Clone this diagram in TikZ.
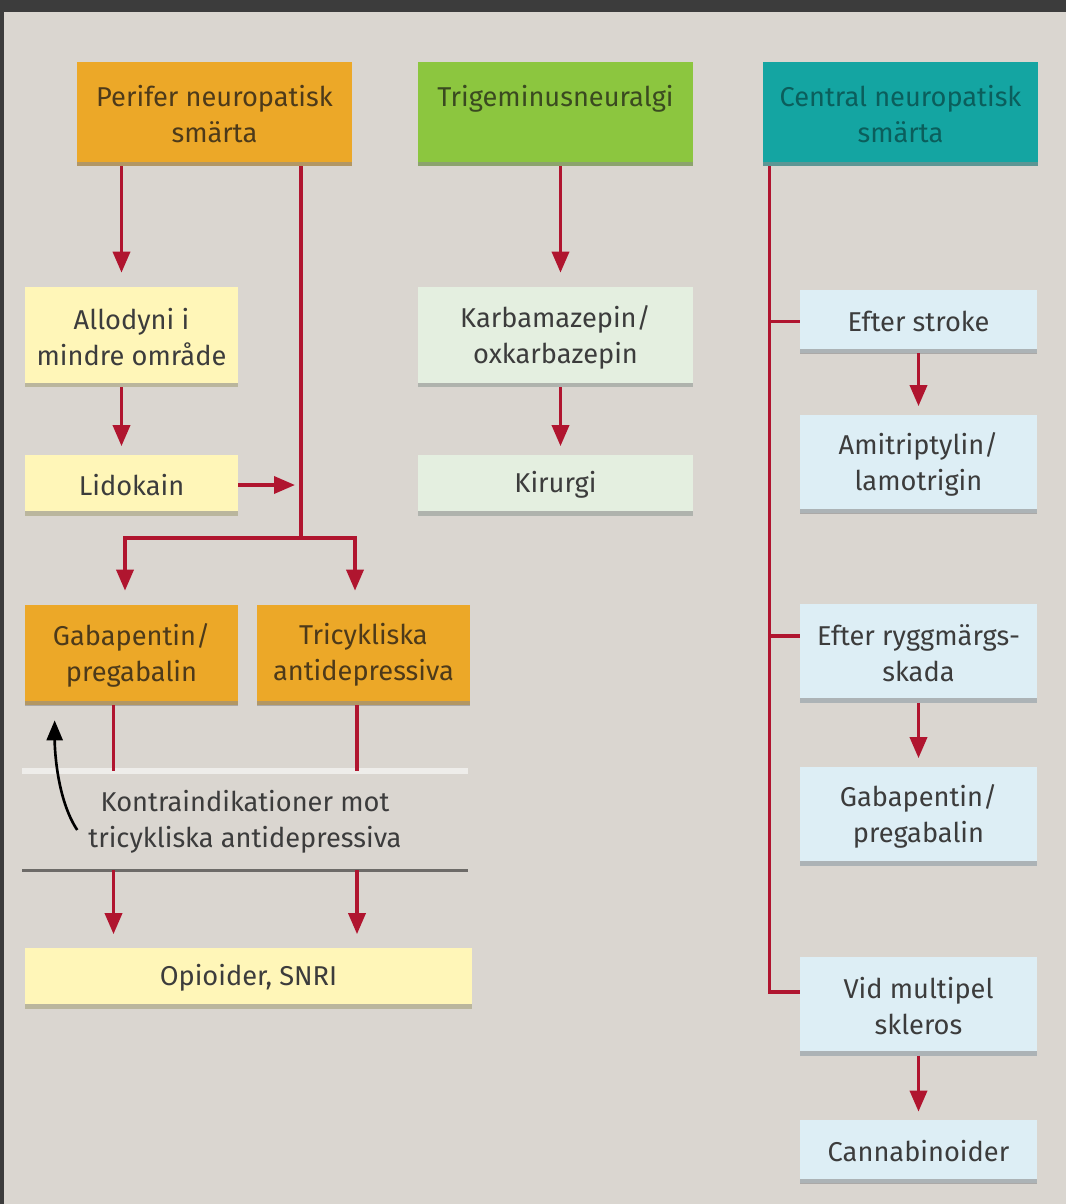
\documentclass[tikz,border=0pt]{standalone}
\usepackage{fontspec}
\setmainfont{Fira Sans}
\usetikzlibrary{positioning,arrows.meta}
\definecolor{nsbg}{HTML}{DAD6D0}
\definecolor{nsframe}{HTML}{3C3C3C}
\definecolor{nsorange}{HTML}{ECA828}
\definecolor{nsbrown}{HTML}{4D3A1A}
\definecolor{nsgreen}{HTML}{8CC63F}
\definecolor{nsolive}{HTML}{3A4A20}
\definecolor{nsteal}{HTML}{14A5A2}
\definecolor{nsdeepteal}{HTML}{0B5E5C}
\definecolor{nsyellow}{HTML}{FFF6B8}
\definecolor{nsmint}{HTML}{E4EFE0}
\definecolor{nsblue}{HTML}{DDEEF5}
\definecolor{nsred}{HTML}{B0152F}
\definecolor{nsgray}{HTML}{3C3C3C}

\begin{document}
\begin{tikzpicture}[
  x=0.02cm, y=-0.02cm,
  box/.style={fill=#1, align=center, inner sep=2pt, text=nsgray, font=\fontsize{15.5}{20.4}\selectfont,
    path picture={\draw[line width=5pt, black!45, opacity=.6] (path picture bounding box.south west) -- (path picture bounding box.south east);}},
  wide/.style={minimum width=5.5cm, minimum height=2.08cm},
  half/.style={minimum width=4.26cm, minimum height=2cm},
  side/.style={minimum width=4.74cm, minimum height=1.98cm},
  low/.style={minimum height=1.22cm},
  line/.style={draw=nsred, line width=2pt},
  arr/.style={line, -{Triangle[length=0.42cm, width=0.34cm]}, shorten >=0.16cm},
  rulea/.style={draw=white!55!nsbg, line width=3.4pt},
  ruleb/.style={draw=black!50!nsbg, line width=1.7pt},
  bendarr/.style={draw=black, line width=1.5pt, -{Triangle[length=0.4cm, width=0.32cm]}}
]
% background and frame
\fill[nsbg] (0,0) rectangle (1066,1204);
\fill[nsframe] (0,0) rectangle (1066,12);
\fill[nsframe] (0,0) rectangle (4,1204);

% top row
\node[box=nsorange, wide, text=nsbrown] (per) at (214.5,114) {Perifer neuropatisk\\ smärta};
\node[box=nsgreen, wide, text=nsolive] (tri) at (555.5,114) {Trigeminusneuralgi\\ \mbox{}};
\node[box=nsteal, wide, text=nsdeepteal] (cen) at (900.5,114) {Central neuropatisk\\ smärta};

% peripheral column
\node[box=nsyellow, half] (allo) at (131.5,337) {Allodyni i\\ mindre område};
\node[box=nsyellow, half, low] (lido) at (131.5,485) {Lidokain};
\node[box=nsorange, half, text=nsbrown] (gabaL) at (131.5,655) {Gabapentin/\\ pregabalin};
\node[box=nsorange, half, text=nsbrown] (tca) at (363.5,655) {Tricykliska\\ antidepressiva};
\node[box=nsyellow, low, minimum width=8.94cm] (opi) at (248.5,978) {Opioider, SNRI};
\node[text=nsgray, align=center, font=\fontsize{15.5}{20.4}\selectfont] (contra) at (245,822) {Kontraindikationer mot\\ tricykliska antidepressiva};

% trigeminal column
\node[box=nsmint, wide, minimum height=2cm] (karba) at (555.5,337) {Karbamazepin/\\ oxkarbazepin};
\node[box=nsmint, wide, low] (kir) at (555.5,485) {Kirurgi};

% central column
\node[box=nsblue, side, minimum height=1.26cm] (stroke) at (918.5,321.5) {Efter stroke};
\node[box=nsblue, side] (ami) at (918.5,464) {Amitriptylin/\\ lamotrigin};
\node[box=nsblue, side] (rygg) at (918.5,653) {Efter ryggmärgs-\\ skada};
\node[box=nsblue, side] (gabaR) at (918.5,816) {Gabapentin/\\ pregabalin};
\node[box=nsblue, side] (ms) at (918.5,1006) {Vid multipel\\ skleros};
\node[box=nsblue, side, minimum height=1.26cm] (cann) at (918.5,1151.5) {Cannabinoider};

% rules round the contraindication
\coordinate (sepa) at (22,771);
\coordinate (sepb) at (22,870);
\draw[rulea] (sepa) -- +(446,0);
\draw[ruleb] (sepb) -- +(446,0);

% peripheral connectors
\coordinate (fork) at (301,538);
\draw[arr, shorten >=0.28cm] ([xshift=-2mm]allo.north |- per.south) -- ([xshift=-2mm]allo.north);
\draw[arr] ([xshift=-2mm]allo.south) -- ([xshift=-2mm]lido.north);
\draw[line] (per.south -| fork) -- (fork);
\draw[arr, shorten >=0.12cm] (lido.east) -- (lido.east -| fork);
\draw[arr, shorten >=0.28cm] (fork) -| ([xshift=-1.3mm]gabaL.north);
\draw[arr, shorten >=0.28cm] (fork) -| ([xshift=-1.7mm]tca.north);
\draw[line] ([xshift=-3.6mm]gabaL.south) -- ([xshift=-3.6mm]gabaL.south |- sepa);
\draw[line] ([xshift=-1.3mm]tca.south) -- ([xshift=-1.3mm]tca.south |- sepa);
\draw[arr, shorten >=0.26cm] ([xshift=-3.6mm]gabaL.south |- sepb) -- ([xshift=-3.6mm]gabaL.south |- opi.north);
\draw[arr, shorten >=0.26cm] ([xshift=-1.3mm]tca.south |- sepb) -- ([xshift=-1.3mm]tca.south |- opi.north);
\draw[bendarr, shorten >=0.3cm] ([shift={(-0.1cm,-0.16cm)}]contra.west) .. controls +(-0.4cm,0.6cm) and +(0,-0.9cm) .. ([xshift=0.6cm]gabaL.south west);

% trigeminal connectors
\draw[arr, shorten >=0.28cm] ([xshift=1mm]tri.south) -- ([xshift=1mm]karba.north);
\draw[arr] ([xshift=1mm]karba.south) -- ([xshift=1mm]kir.north);

% central connectors
\coordinate (spine) at ([xshift=0.14cm]cen.south west);
\draw[line] (spine) |- ([yshift=0.28cm]ms.west);
\draw[line] (stroke.west -| spine) -- (stroke.west);
\draw[line] ([yshift=0.34cm]rygg.west -| spine) -- ([yshift=0.34cm]rygg.west);
\draw[arr] (stroke.south) -- (ami.north);
\draw[arr] (rygg.south) -- (gabaR.north);
\draw[arr] (ms.south) -- (cann.north);
\end{tikzpicture}
\end{document}
